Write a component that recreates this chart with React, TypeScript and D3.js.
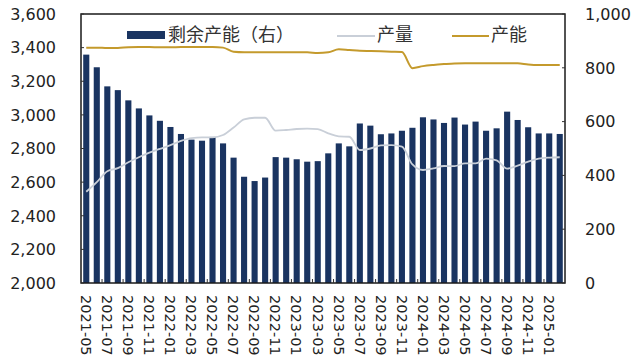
import React, { useEffect, useRef } from 'react';
import * as d3 from 'd3';

const months: string[] = [
  '2021-05', '2021-06', '2021-07', '2021-08', '2021-09', '2021-10', '2021-11', '2021-12',
  '2022-01', '2022-02', '2022-03', '2022-04', '2022-05', '2022-06', '2022-07', '2022-08',
  '2022-09', '2022-10', '2022-11', '2022-12', '2023-01', '2023-02', '2023-03', '2023-04',
  '2023-05', '2023-06', '2023-07', '2023-08', '2023-09', '2023-10', '2023-11', '2023-12',
  '2024-01', '2024-02', '2024-03', '2024-04', '2024-05', '2024-06', '2024-07', '2024-08',
  '2024-09', '2024-10', '2024-11', '2024-12', '2025-01', '2025-02',
];

// 剩余产能（右轴）
const spare: number[] = [
  849, 802, 731, 717, 679, 649, 623, 603, 580, 554, 533, 529, 543, 519, 466, 395,
  379, 392, 468, 466, 460, 451, 453, 482, 519, 508, 593, 585, 553, 556, 566, 577,
  616, 608, 595, 615, 589, 600, 566, 575, 637, 606, 579, 556, 556, 554,
];

// 产量（左轴）
const output: number[] = [
  2543, 2600, 2665, 2683, 2718, 2748, 2775, 2798, 2820, 2845, 2862, 2866, 2866, 2880, 2925, 2973,
  2983, 2983, 2906, 2910, 2916, 2918, 2915, 2890, 2872, 2870, 2791, 2800, 2818, 2820, 2811, 2705,
  2672, 2682, 2696, 2695, 2712, 2712, 2740, 2730, 2680, 2698, 2722, 2740, 2746, 2748,
];

// 产能（左轴）
const capacity: number[] = [
  3400, 3400, 3398, 3398, 3402, 3403, 3403, 3402, 3402, 3403, 3403, 3403, 3403, 3400, 3375, 3372,
  3372, 3372, 3372, 3372, 3372, 3372, 3368, 3372, 3390, 3386, 3382, 3380, 3378, 3376, 3374, 3278,
  3290, 3297, 3302, 3306, 3307, 3307, 3307, 3307, 3307, 3307, 3300, 3297, 3297, 3297,
];

const leftTicks: number[] = [2000, 2200, 2400, 2600, 2800, 3000, 3200, 3400, 3600];
const rightTicks: number[] = [0, 200, 400, 600, 800, 1000];

const W = 640;
const H = 359;
const plot = { left: 81, right: 565, top: 14, bottom: 283 };
const FONT = '"DejaVu Sans", Verdana, sans-serif';

export default function App() {
  const ref = useRef<SVGSVGElement>(null);

  useEffect(() => {
    if (!ref.current) return;
    const svg = d3.select(ref.current);
    svg.selectAll('*').remove();

    const x = d3.scaleBand<string>()
      .domain(months)
      .range([plot.left, plot.right])
      .paddingInner(0.42)
      .paddingOuter(0.21);
    const cx = (m: string) => (x(m) || 0) + x.bandwidth() / 2;

    const yL = d3.scaleLinear().domain([2000, 3600]).range([plot.bottom, plot.top]);
    const yR = d3.scaleLinear().domain([0, 1000]).range([plot.bottom, plot.top]);

    // bars
    svg.append('g')
      .selectAll('rect')
      .data(spare)
      .enter()
      .append('rect')
      .attr('x', (_, i) => x(months[i]) || 0)
      .attr('y', d => yR(d))
      .attr('width', x.bandwidth())
      .attr('height', d => yR(0) - yR(d))
      .attr('fill', '#1a3461');

    // output line
    const outLine = d3.line<number>()
      .x((_, i) => cx(months[i]))
      .y(d => yL(d))
      .curve(d3.curveMonotoneX);
    svg.append('path')
      .attr('d', outLine(output) || '')
      .attr('fill', 'none')
      .attr('stroke', '#c9cfd8')
      .attr('stroke-width', 1.8);

    // capacity line
    svg.append('path')
      .attr('d', outLine(capacity) || '')
      .attr('fill', 'none')
      .attr('stroke', '#c49a2c')
      .attr('stroke-width', 2);

    // frame
    svg.append('rect')
      .attr('x', plot.left)
      .attr('y', plot.top)
      .attr('width', plot.right - plot.left)
      .attr('height', plot.bottom - plot.top)
      .attr('fill', 'none')
      .attr('stroke', '#1a1a1a')
      .attr('stroke-width', 1.5);

    // left axis
    const gl = svg.append('g');
    leftTicks.forEach(t => {
      gl.append('line')
        .attr('x1', plot.left).attr('x2', plot.left + 3)
        .attr('y1', yL(t)).attr('y2', yL(t))
        .attr('stroke', '#333');
      gl.append('text')
        .attr('x', 56)
        .attr('y', yL(t))
        .attr('dy', '0.36em')
        .attr('text-anchor', 'end')
        .attr('font-size', 16)
        .attr('font-family', FONT)
        .attr('fill', '#222')
        .text(d3.format(',')(t));
    });

    // right axis
    const gr = svg.append('g');
    rightTicks.forEach(t => {
      gr.append('line')
        .attr('x1', plot.right - 3).attr('x2', plot.right)
        .attr('y1', yR(t)).attr('y2', yR(t))
        .attr('stroke', '#333');
      gr.append('text')
        .attr('x', 585)
        .attr('y', yR(t))
        .attr('dy', '0.36em')
        .attr('text-anchor', 'start')
        .attr('font-size', 16)
        .attr('font-family', FONT)
        .attr('fill', '#222')
        .text(d3.format(',')(t));
    });

    // bottom axis: ticks between months, labels every 2 months
    const gb = svg.append('g');
    months.forEach((m, i) => {
      if (i % 2 === 1 && i < months.length - 1) {
        const bx = (x(m) || 0) + x.step() - (x.step() - x.bandwidth()) / 2;
        gb.append('line')
          .attr('x1', bx).attr('x2', bx)
          .attr('y1', plot.bottom).attr('y2', plot.bottom - 4)
          .attr('stroke', '#333');
      }
      if (i % 2 === 0) {
        gb.append('text')
          .attr('transform', `translate(${cx(m)},${plot.bottom + 12}) rotate(90)`)
          .attr('dy', '0.36em')
          .attr('text-anchor', 'start')
          .attr('font-size', 14.5)
          .attr('font-family', FONT)
          .attr('fill', '#222')
          .text(m);
      }
    });

    // legend
    const lg = svg.append('g').attr('font-family', '"Noto Sans CJK SC", sans-serif').attr('font-size', 18).attr('fill', '#333');
    lg.append('rect').attr('x', 127).attr('y', 31).attr('width', 38).attr('height', 8).attr('fill', '#1a3461');
    lg.append('text').attr('x', 168).attr('y', 35).attr('dy', '0.36em').text('剩余产能（右）');
    lg.append('line').attr('x1', 337).attr('x2', 375).attr('y1', 36).attr('y2', 36).attr('stroke', '#c9cfd8').attr('stroke-width', 1.8);
    lg.append('text').attr('x', 377).attr('y', 35).attr('dy', '0.36em').text('产量');
    lg.append('line').attr('x1', 452).attr('x2', 489).attr('y1', 36).attr('y2', 36).attr('stroke', '#c49a2c').attr('stroke-width', 2);
    lg.append('text').attr('x', 491).attr('y', 35).attr('dy', '0.36em').text('产能');
  }, []);

  return (
    <svg
      ref={ref}
      width={W}
      height={H}
      style={{ position: 'absolute', left: 0, top: 0, background: '#fff' }}
    />
  );
}
